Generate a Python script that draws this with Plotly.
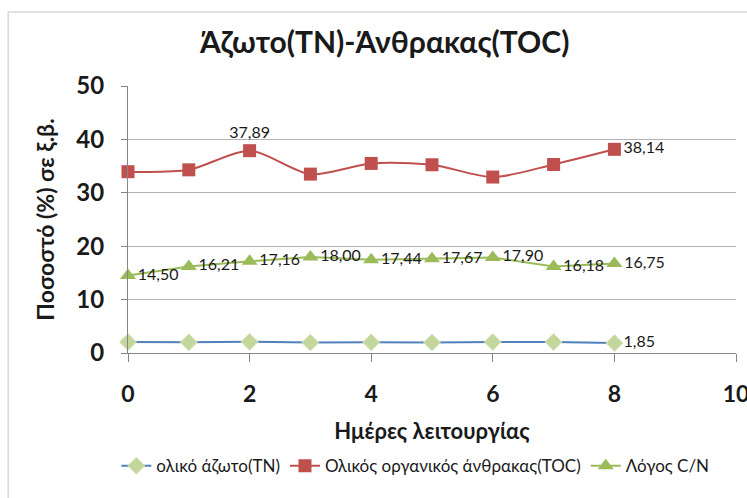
import plotly.graph_objects as go

days = [0, 1, 2, 3, 4, 5, 6, 7, 8]
tn = [2.05, 2.00, 2.10, 1.95, 2.00, 1.95, 2.05, 2.05, 1.85]
toc = [33.95, 34.30, 37.89, 33.50, 35.50, 35.25, 32.95, 35.30, 38.14]
cn = [14.50, 16.21, 17.16, 18.00, 17.44, 17.67, 17.90, 16.18, 16.75]
x_ticks = [0, 2, 4, 6, 8, 10]
y_ticks = [0, 10, 20, 30, 40, 50]

tn_name = "ολικό άζωτο(TN)"
toc_name = "Ολικός οργανικός άνθρακας(TOC)"
cn_name = "Λόγος C/N"
title = "Άζωτο(TN)-Άνθρακας(TOC)"
x_title = "Ημέρες λειτουργίας"
y_title = "Ποσοστό (%) σε ξ.β."

FONT = "Lato"
INK = "#1a1a1a"


def fmt(v):
    return f"{v:.2f}".replace(".", ",")


# labels shown only on selected points
tn_text = [""] * (len(days) - 1) + [fmt(tn[-1])]
toc_text = ["", "", fmt(toc[2]), "", "", "", "", "", fmt(toc[-1])]
toc_pos = ["middle right"] * len(days)
toc_pos[2] = "top center"
cn_text = [fmt(v) for v in cn]
label_font = dict(family=FONT, size=16, color=INK)

fig = go.Figure()
fig.add_trace(go.Scatter(
    x=days, y=tn, name=tn_name, mode="lines+markers+text",
    line=dict(color="#4f81bd", width=2),
    marker=dict(symbol="diamond", size=13, color="#c3d69b",
                line=dict(color="#d7e4bd", width=1)),
    text=tn_text, textposition="middle right", textfont=label_font,
    cliponaxis=False,
))
fig.add_trace(go.Scatter(
    x=days, y=toc, name=toc_name, mode="lines+markers+text",
    line=dict(color="#c0504d", width=2, shape="spline", smoothing=0.8),
    marker=dict(symbol="square", size=13, color="#c0504d"),
    text=toc_text, textposition=toc_pos, textfont=label_font,
    cliponaxis=False,
))
fig.add_trace(go.Scatter(
    x=days, y=cn, name=cn_name, mode="lines+markers+text",
    line=dict(color="#9bbb59", width=2),
    marker=dict(symbol="triangle-up", size=14, color="#9bbb59"),
    text=cn_text, textposition="middle right", textfont=label_font,
    cliponaxis=False,
))

fig.update_layout(
    width=747, height=498,
    margin=dict(l=128, r=11, t=86, b=145, autoexpand=False),
    paper_bgcolor="white", plot_bgcolor="white",
    font=dict(family=FONT, color=INK),
    separators=",.",
    title=dict(text=title, x=0.515, xanchor="center", y=0.915, yanchor="middle",
               font=dict(family=FONT, size=30, color=INK, weight="bold")),
    showlegend=True,
    legend=dict(orientation="h", xref="container", yref="container",
                x=0.556, xanchor="center", y=0.064, yanchor="middle",
                font=dict(family=FONT, size=17, color=INK),
                itemwidth=30, tracegroupgap=0),
    xaxis=dict(range=[0, 10], tickmode="array", tickvals=x_ticks, showgrid=False,
               showline=True, linecolor="#868686", linewidth=1,
               ticks="outside", ticklen=8, tickcolor="#868686",
               ticklabelstandoff=12, ticklabeloverflow="allow",
               tickfont=dict(family=FONT, size=23, color=INK, weight="bold"),
               title=dict(text=x_title, standoff=18,
                          font=dict(family=FONT, size=22, color=INK, weight="bold")),
               zeroline=False),
    yaxis=dict(range=[0, 50], tickmode="array", tickvals=y_ticks,
               showgrid=True, gridcolor="#b3b3b3", gridwidth=1,
               showline=True, linecolor="#868686", linewidth=1,
               ticks="outside", ticklen=6, tickcolor="#868686",
               ticklabelstandoff=12,
               tickfont=dict(family=FONT, size=24, color=INK, weight="bold"),
               title=dict(text=y_title, standoff=15,
                          font=dict(family=FONT, size=23, color=INK, weight="bold")),
               zeroline=False),
    shapes=[dict(type="rect", xref="paper", yref="paper",
                 x0=-0.197, x1=1.05, y0=-0.6, y1=1.277,
                 line=dict(color="#d9d9d9", width=1.5), layer="below")],
)

fig.write_html("out.html")
